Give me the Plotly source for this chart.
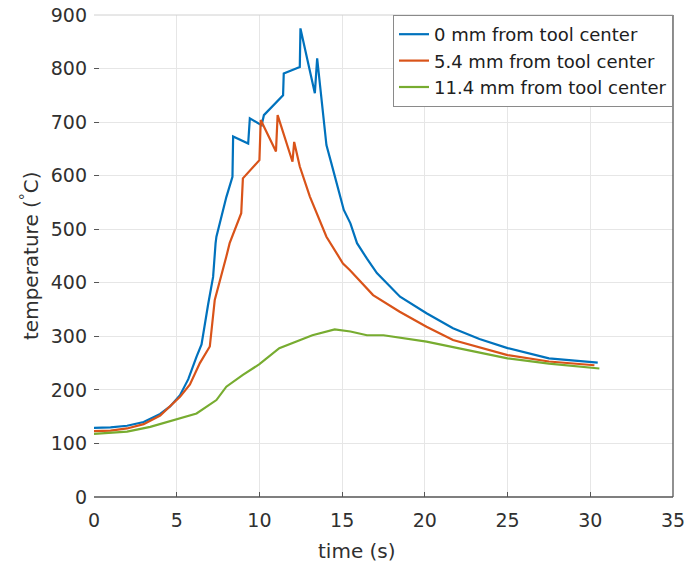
import plotly.graph_objects as go

# time (s) and temperature (°C)
t_0mm = [0, 1, 2, 3, 4, 4.6, 5.2, 5.7, 6.2, 6.5, 6.9, 7.2, 7.35, 7.4, 8.0, 8.37, 8.41,
         9.32, 9.42, 10.13, 10.27, 11.43, 11.47, 12.44, 12.48, 13.35, 13.49, 14.05,
         14.35, 15.1, 15.5, 15.9, 16.5, 17.1, 18.5, 20.1, 21.7, 23.3, 25.0, 27.5, 30.45]
T_0mm = [129, 130, 133, 140, 155, 169, 190, 220, 262, 285, 360, 411, 474, 486, 560, 598, 673,
         660, 707, 694, 713, 750, 791, 803, 875, 754, 819, 657,
         623, 536, 511, 474, 445, 418, 374, 343, 315, 295, 278, 259, 251]

t_5mm = [0, 1, 2, 3, 4, 5.2, 5.8, 6.4, 7.0, 7.3, 8.0, 8.2, 8.9, 9.0, 10.0, 10.08,
         11.0, 11.1, 12.0, 12.1, 12.44, 13.05, 14.05, 15.05, 15.46, 16.87, 18.48,
         20.1, 21.7, 25.0, 27.5, 30.25]
T_5mm = [123, 124, 128, 136, 152, 187, 210, 250, 281, 368, 449, 474, 530, 595, 629, 704,
         645, 713, 626, 663, 617, 561, 486, 436, 424, 377, 346,
         318, 293, 265, 253, 246]

t_11mm = [0, 2, 3.4, 5.2, 6.2, 7.4, 8.0, 9.0, 10.0, 11.2, 13.2, 14.55, 15.5, 16.5,
          17.5, 20.1, 21.5, 25.0, 27.5, 30.55]
T_11mm = [118, 122, 131, 147, 156, 181, 206, 228, 248, 278, 302, 313, 309, 302,
          302, 290, 281, 259, 249, 240]

series_names = ["0 mm from tool center", "5.4 mm from tool center", "11.4 mm from tool center"]
series_colors = ["#0072BD", "#D95319", "#77AC30"]

x_ticks = [0, 5, 10, 15, 20, 25, 30, 35]
y_ticks = [0, 100, 200, 300, 400, 500, 600, 700, 800, 900]

fig = go.Figure()
for name, color, xs, ys in zip(series_names, series_colors,
                               [t_0mm, t_5mm, t_11mm], [T_0mm, T_5mm, T_11mm]):
    fig.add_trace(go.Scatter(x=xs, y=ys, mode="lines", name=name,
                             line=dict(color=color, width=2.2)))

FONT = "DejaVu Sans, Liberation Sans, Arial, sans-serif"
axis_font = dict(family=FONT, size=19, color="#303030")
title_font = dict(family=FONT, size=20, color="#303030")

fig.update_layout(
    width=689, height=573,
    margin=dict(l=94, r=16, t=15, b=76, autoexpand=False),
    paper_bgcolor="white", plot_bgcolor="white",
    font=axis_font,
    showlegend=True,
    legend=dict(x=1, y=1, xanchor="right", yanchor="top",
                bgcolor="white", bordercolor="#8a8a8a", borderwidth=1,
                font=dict(family=FONT, size=18, color="#202020"),
                tracegroupgap=0, itemwidth=30),
    xaxis=dict(range=[0, 35], tickvals=x_ticks, ticks="inside", ticklen=5,
               tickcolor="#555555", showgrid=True, gridcolor="#e6e6e6", gridwidth=1,
               zeroline=False, showline=False, tickfont=axis_font,
               ticklabelstandoff=10, ticklabeloverflow="allow"),
    yaxis=dict(range=[0, 900], tickvals=y_ticks, ticks="inside", ticklen=5,
               tickcolor="#555555", showgrid=True, gridcolor="#e6e6e6", gridwidth=1,
               zeroline=False, showline=False, tickfont=axis_font,
               ticklabelstandoff=6, ticklabeloverflow="allow"),
    shapes=[
        dict(type="line", xref="paper", yref="paper", x0=0, x1=1, y0=0, y1=0,
             line=dict(color="#555555", width=1.3)),
        dict(type="line", xref="paper", yref="paper", x0=1, x1=1, y0=0, y1=1,
             line=dict(color="#555555", width=1.3)),
        dict(type="line", xref="paper", yref="paper", x0=0, x1=1, y0=1, y1=1,
             line=dict(color="#d0d0d0", width=1)),
    ],
    annotations=[
        dict(text="time (s)", xref="paper", yref="paper", x=0.455, y=0,
             yshift=-40, xanchor="center", yanchor="top", showarrow=False,
             font=title_font),
        dict(text="temperature (<sup>°</sup>C)", xref="paper", yref="paper",
             x=0, xshift=-64, y=0.5, textangle=-90, xanchor="center", yanchor="middle",
             showarrow=False, font=title_font),
    ],
)

fig.write_html("out.html",
               config={"displayModeBar": False},
               post_script="document.body.style.margin='0';document.body.style.overflow='hidden';")
